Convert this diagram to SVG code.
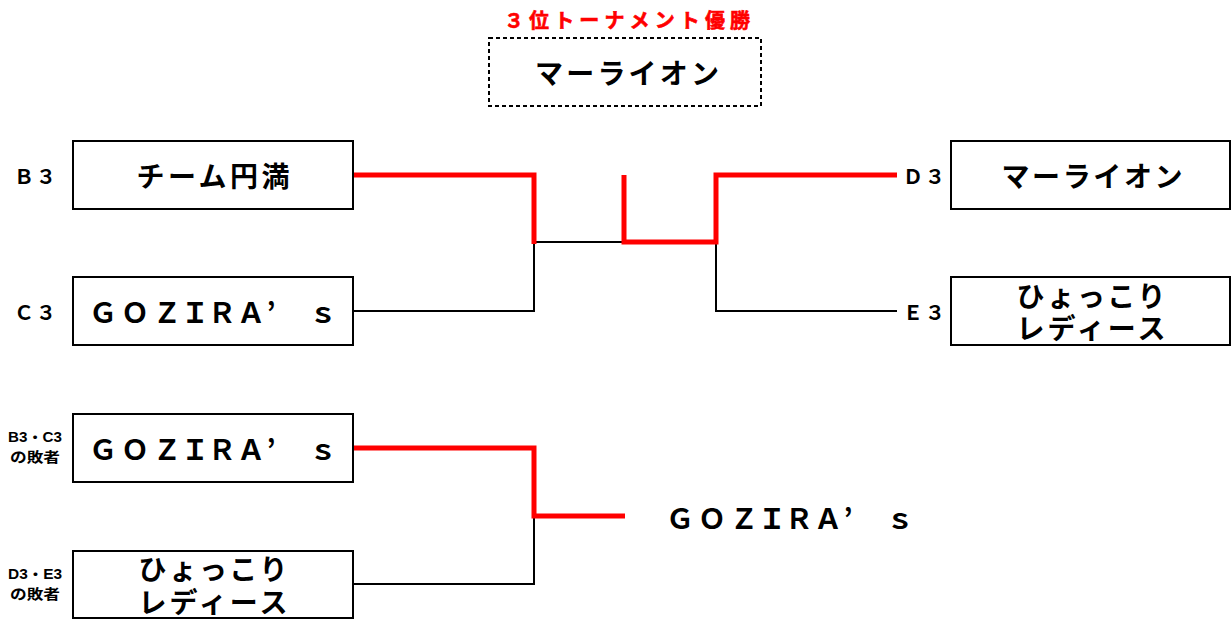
<svg xmlns="http://www.w3.org/2000/svg" width="1231" height="619" viewBox="0 0 1231 619">
<style>
.box{fill:#fff;stroke:#000;stroke-width:2}
.dash{fill:#fff;stroke:#000;stroke-width:2;stroke-dasharray:4 3}
.name{font-family:"Noto Sans CJK JP","Liberation Sans",sans-serif;font-size:28px;font-weight:bold;fill:#000;text-anchor:middle;dominant-baseline:central}
.lbl{font-family:"Noto Sans CJK JP","Liberation Sans",sans-serif;font-size:20px;font-weight:bold;fill:#000;text-anchor:middle;dominant-baseline:central}
.sm{font-family:"Liberation Sans","Noto Sans CJK JP",sans-serif;font-size:14px;font-weight:bold;fill:#000;text-anchor:middle;dominant-baseline:central}
.title{font-family:"Noto Sans CJK JP","Liberation Sans",sans-serif;font-size:20px;font-weight:bold;fill:#f00;stroke:#f00;stroke-width:0.6;text-anchor:middle;dominant-baseline:central}
.red{fill:none;stroke:#f00;stroke-width:5}
.blk{fill:none;stroke:#000;stroke-width:2}
</style>
<g id="connectors">
<polyline class="blk" points="353,311 534,311 534,242 624,242"/>
<polyline class="blk" points="716,242 716,311 897,311"/>
<polyline class="blk" points="353,584 534,584 534,516"/>
<polyline class="red" points="353,175 534,175 534,244"/>
<polyline class="red" points="624,175 624,242 716,242 716,175 897,175"/>
<polyline class="red" points="353,448 534,448 534,516 625,516"/>
</g>
<g id="title">
<text class="title" x="627" y="19" textLength="246" lengthAdjust="spacing">３位トーナメント優勝</text>
</g>
<g id="winner-top">
<rect class="dash" x="489" y="38" width="272" height="68"/>
<text class="name" x="627" y="72" textLength="184" lengthAdjust="spacing">マーライオン</text>
</g>
<g id="node-b3">
<text class="lbl" x="24 46" y="175">Ｂ３</text>
<rect class="box" x="73" y="141" width="280" height="68"/>
<text class="name" x="213" y="175" textLength="153" lengthAdjust="spacing">チーム円満</text>
</g>
<g id="node-c3">
<text class="lbl" x="24 46" y="311">Ｃ３</text>
<rect class="box" x="73" y="277" width="280" height="68"/>
<text class="name" x="103 135 167 195 222 251 271 323" y="311">ＧＯＺＩＲＡ’ｓ</text>
</g>
<g id="node-d3">
<text class="lbl" x="913 935" y="175">Ｄ３</text>
<rect class="box" x="951" y="141" width="279" height="68"/>
<text class="name" x="1092" y="175" textLength="181" lengthAdjust="spacing">マーライオン</text>
</g>
<g id="node-e3">
<text class="lbl" x="913 935" y="311">Ｅ３</text>
<rect class="box" x="951" y="277" width="279" height="68"/>
<text class="name" y="311"><tspan x="1091" y="295" textLength="149" lengthAdjust="spacing">ひょっこり</tspan><tspan x="1091" y="327" textLength="149" lengthAdjust="spacing">レディース</tspan></text>
</g>
<g id="node-loser1">
<text class="sm"><tspan x="35" y="437" textLength="54" lengthAdjust="spacingAndGlyphs">B3・C3</tspan><tspan x="35" y="457" textLength="50" lengthAdjust="spacingAndGlyphs">の敗者</tspan></text>
<rect class="box" x="73" y="414" width="280" height="68"/>
<text class="name" x="103 135 167 195 222 251 271 323" y="448">ＧＯＺＩＲＡ’ｓ</text>
</g>
<g id="node-loser2">
<text class="sm"><tspan x="35" y="574" textLength="54" lengthAdjust="spacingAndGlyphs">D3・E3</tspan><tspan x="35" y="594" textLength="50" lengthAdjust="spacingAndGlyphs">の敗者</tspan></text>
<rect class="box" x="73" y="551" width="280" height="67"/>
<text class="name"><tspan x="213" y="568" textLength="149" lengthAdjust="spacing">ひょっこり</tspan><tspan x="213" y="601" textLength="149" lengthAdjust="spacing">レディース</tspan></text>
</g>
<g id="winner-bottom">
<text class="name" x="680 712 744 772 799 828 848 900" y="517">ＧＯＺＩＲＡ’ｓ</text>
</g>
</svg>
